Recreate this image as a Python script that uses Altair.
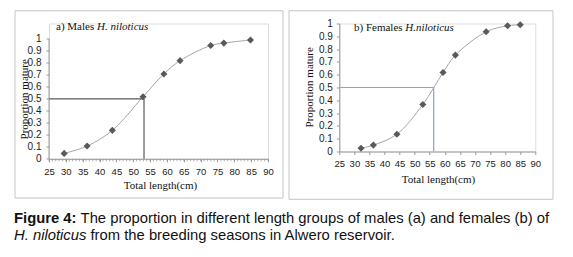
import altair as alt
import pandas as pd

# ---- data ----
male_len = [29.5, 36.3, 43.8, 52.9, 59.1, 63.9, 73.0, 76.9, 84.8]
male_prop = [0.045, 0.106, 0.237, 0.517, 0.707, 0.818, 0.944, 0.964, 0.99]
female_len = [32.2, 36.3, 44.1, 52.7, 59.4, 63.5, 73.7, 80.8, 85.0]
female_prop = [0.026, 0.05, 0.135, 0.367, 0.617, 0.753, 0.935, 0.982, 0.99]
male_l50 = 53.2
female_l50 = 56.3
x_ticks = [25, 30, 35, 40, 45, 50, 55, 60, 65, 70, 75, 80, 85, 90]
y_ticks = [0, 0.1, 0.2, 0.3, 0.4, 0.5, 0.6, 0.7, 0.8, 0.9, 1]
minor_ticks = list(range(25, 91))

SERIF = "Liberation Serif"
SANS = "Liberation Sans"
PT_COLOR = "#595959"
LINE_COLOR = "#A6A6A6"
AX_COLOR = "#9a9a9a"
BORDER = "#C4C4C4"

male = pd.DataFrame({"len": male_len, "prop": male_prop})
female = pd.DataFrame({"len": female_len, "prop": female_prop})
one = alt.Data(values=[{}])


def make_axes(ytitle_x, ytitle_y, xtitle_x, xtitle_y, xlab_pad, ylab_pad,
              show_domain_y):
    xaxis = alt.Axis(values=x_ticks, title="Total length(cm)", grid=False,
                     labelFont=SANS, labelFontSize=9.5, labelColor="#222",
                     labelOverlap=False,
                     titleFont=SERIF, titleFontSize=11, titleFontWeight="normal",
                     titleColor="#111", titleX=xtitle_x, titleY=xtitle_y,
                     titleBaseline="middle", titleAlign="center",
                     domainColor=AX_COLOR, tickColor=AX_COLOR, tickSize=3,
                     labelPadding=xlab_pad, labelFlush=False)
    yaxis = alt.Axis(values=y_ticks, format="~g", title="Proportion mature",
                     grid=False, labelFont=SANS, labelFontSize=10,
                     labelColor="#222", labelOverlap=False,
                     titleFont=SERIF, titleFontSize=11,
                     titleFontWeight="normal", titleColor="#111",
                     titleX=ytitle_x, titleY=ytitle_y, titleAngle=-90,
                     titleBaseline="middle", titleAlign="center",
                     domain=show_domain_y, domainColor=AX_COLOR,
                     tickColor=AX_COLOR, tickSize=3, labelPadding=ylab_pad,
                     labelFlush=False)
    return xaxis, yaxis


def panel(df, l50, ref_color, xs, ys, xaxis, yaxis):
    base = alt.Chart(df)
    line = base.mark_line(interpolate="catmull-rom", color=LINE_COLOR,
                          strokeWidth=1).encode(
        x=alt.X("len:Q", scale=xs, axis=xaxis),
        y=alt.Y("prop:Q", scale=ys, axis=yaxis))
    pts = base.mark_point(shape="diamond", filled=True, color=PT_COLOR,
                          size=50, opacity=1).encode(
        x=alt.X("len:Q", scale=xs, axis=xaxis),
        y=alt.Y("prop:Q", scale=ys, axis=yaxis))
    ref = pd.DataFrame({"len": [25, l50], "x2": [l50, l50],
                        "prop": [0.5, 0.0], "y2": [0.5, 0.5]})
    refs = alt.Chart(ref).mark_rule(color=ref_color, stroke=ref_color,
                                    strokeWidth=1.2).encode(
        x=alt.X("len:Q", scale=xs, axis=xaxis), x2="x2:Q",
        y=alt.Y("prop:Q", scale=ys, axis=yaxis), y2="y2:Q")
    return [line, refs, pts]


# ---- left panel (males) ----
L_W, L_H, L_YMAX = 219, 135.3, 1.1275
lxs = alt.Scale(domain=[25, 90], nice=False, zero=False)
lys = alt.Scale(domain=[0, L_YMAX], nice=False)
lxa, lya = make_axes(-25, 75.3, 111, 27, 5, 5, False)
left_layers = panel(male, male_l50, "#5a5a5a", lxs, lys, lxa, lya)
y_line = alt.Chart(pd.DataFrame({"prop": [0], "b": [1]})).mark_rule(
    color=AX_COLOR, strokeWidth=1).encode(
    x=alt.value(0), y=alt.Y("prop:Q", scale=lys, axis=lya), y2="b:Q")
minor = alt.Chart(pd.DataFrame({"len": minor_ticks})).mark_rule(
    color=AX_COLOR, strokeWidth=0.8).encode(
    x=alt.X("len:Q", scale=lxs, axis=lxa), y=alt.value(L_H),
    y2=alt.value(L_H + 2.5))
left_border = alt.Chart(one).mark_rect(fill=None, stroke=BORDER,
                                       strokeWidth=1).encode(
    x=alt.value(-34), x2=alt.value(234), y=alt.value(-12.7),
    y2=alt.value(174.5))
l_t1 = alt.Chart(one).mark_text(text="a) Males", font=SERIF, fontSize=11,
                                align="left", baseline="middle",
                                color="#111").encode(
    x=alt.value(7), y=alt.value(3.5))
l_t2 = alt.Chart(one).mark_text(text="H. niloticus", font=SERIF, fontSize=11,
                                fontStyle="italic", align="left",
                                baseline="middle", color="#111").encode(
    x=alt.value(48), y=alt.value(3.5))
# caption
CAP = 14.8
cap1a = alt.Chart(one).mark_text(text="Figure 4:", font=SANS, fontSize=CAP,
                                 fontWeight="bold", align="left",
                                 baseline="middle", color="#111").encode(
    x=alt.value(-35), y=alt.value(195))
cap1b = alt.Chart(one).mark_text(
    text="The proportion in different length groups of males (a) and females (b) of",
    font=SANS, fontSize=CAP, align="left", baseline="middle",
    color="#111").encode(x=alt.value(31.6), y=alt.value(195))
cap2a = alt.Chart(one).mark_text(text="H. niloticus", font=SANS, fontSize=CAP,
                                 fontStyle="italic", align="left",
                                 baseline="middle", color="#111").encode(
    x=alt.value(-35), y=alt.value(212.3))
cap2b = alt.Chart(one).mark_text(
    text="from the breeding seasons in Alwero reservoir.", font=SANS,
    fontSize=CAP, align="left", baseline="middle", color="#111").encode(
    x=alt.value(41.5), y=alt.value(212.3))

left = alt.layer(*left_layers, y_line, minor, left_border, l_t1, l_t2,
                 cap1a, cap1b, cap2a, cap2b).properties(width=L_W, height=L_H)

# ---- right panel (females) ----
R_W, R_H = 196, 128
rxs = alt.Scale(domain=[25, 90], nice=False, zero=False)
rys = alt.Scale(domain=[0, 1], nice=False)
rxa, rya = make_axes(-30, 63.3, 98.7, 28.3, 4, 4, True)
right_layers = panel(female, female_l50, "#86A4DA", rxs, rys, rxa, rya)
right_border = alt.Chart(one).mark_rect(fill=None, stroke=BORDER,
                                        strokeWidth=1).encode(
    x=alt.value(-50.3), x2=alt.value(213.7), y=alt.value(-12.7),
    y2=alt.value(175.8))
r_t1 = alt.Chart(one).mark_text(text="b) Females", font=SERIF, fontSize=11,
                                align="left", baseline="middle",
                                color="#111").encode(
    x=alt.value(14.7), y=alt.value(4))
r_t2 = alt.Chart(one).mark_text(text="H.niloticus", font=SERIF, fontSize=11,
                                fontStyle="italic", align="left",
                                baseline="middle", color="#111").encode(
    x=alt.value(66), y=alt.value(4))
right = alt.layer(*right_layers, right_border, r_t1, r_t2).properties(
    width=R_W, height=R_H)

chart = alt.hconcat(left, right, spacing=71.3, bounds="flush").properties(
    padding={"left": 5, "top": 1.5, "right": 0, "bottom": 0}
).configure_view(stroke=None).configure(background="white")

chart.save("out.html", embed_options={"renderer": "svg", "actions": False})
